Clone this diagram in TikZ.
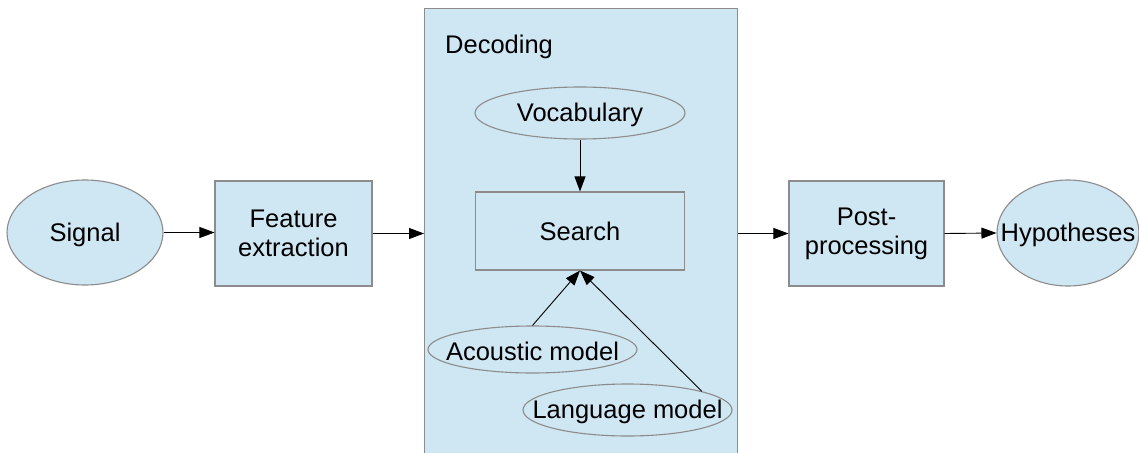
\documentclass[tikz,border=0pt]{standalone}
\usepackage{fontspec}
\setmainfont{Liberation Sans}
\usetikzlibrary{shapes.geometric,arrows.meta}
\definecolor{paleblue}{HTML}{CFE6F3}
\definecolor{edgegray}{HTML}{8C8C8C}
\tikzset{
  txt/.style={font=\fontsize{25.5}{29}\selectfont, align=center, inner sep=0pt},
  base/.style={draw=edgegray, line width=1.1pt, fill=paleblue, inner sep=0pt, txt},
  boxnode/.style={base, rectangle},
  % ellipse sized by its own dimensions; the caption is set as a centred label
  ovalnode/.style={base, ellipse, label={[txt, yshift=-2pt]center:#1}},
  flow/.style={draw=black, line width=0.9pt, -{Triangle[length=15pt, width=11pt]}},
}
\begin{document}
\begin{tikzpicture}[x=1pt, y=-1pt]
  \clip (0,0) rectangle (1139,452);
  \fill[white] (0,0) rectangle (1139,452);

  % decoding stage container
  \node[boxnode, minimum width=313pt, minimum height=470pt, anchor=north west] (dec) at (424,8) {};
  \node[txt, anchor=west] (declbl) at (445,47) {Decoding};

  % pipeline
  \node[ovalnode=Signal, minimum width=156pt, minimum height=105pt] (sig) at (85,232.5) {};
  \node[boxnode, minimum width=157pt, minimum height=105pt] (fe) at (293.5,233.5) {Feature\\extraction};
  \node[boxnode, minimum width=155pt, minimum height=105pt] (post) at (866.5,233.5) {Post-\\processing};
  \node[ovalnode=Hypotheses, minimum width=142pt, minimum height=106pt] (hyp) at (1068,233) {};

  % decoding internals
  \node[ovalnode=Vocabulary, minimum width=210pt, minimum height=52pt] (voc) at (580,113) {};
  \node[boxnode, minimum width=209pt, minimum height=78pt] (search) at (580,231) {Search};
  \node[ovalnode=Acoustic model, minimum width=209pt, minimum height=47pt] (ac) at (532.5,349.5) {};
  \node[ovalnode=Language model, minimum width=209pt, minimum height=52pt] (lm) at (627.5,410) {};

  % connectors
  \draw[flow] (sig.east) -- (sig.east -| fe.west);
  \draw[flow] (fe.east) -- (fe.east -| dec.west);
  \draw[flow] (dec.east |- post.west) -- (post.west);
  \draw[flow] (post.east) -- (hyp.west);
  \draw[flow] (voc.south) -- (search.north);
  \draw[flow] (ac.north) -- (search.south);
  \draw[flow] (lm.north east) -- (search.south);
\end{tikzpicture}
\end{document}
